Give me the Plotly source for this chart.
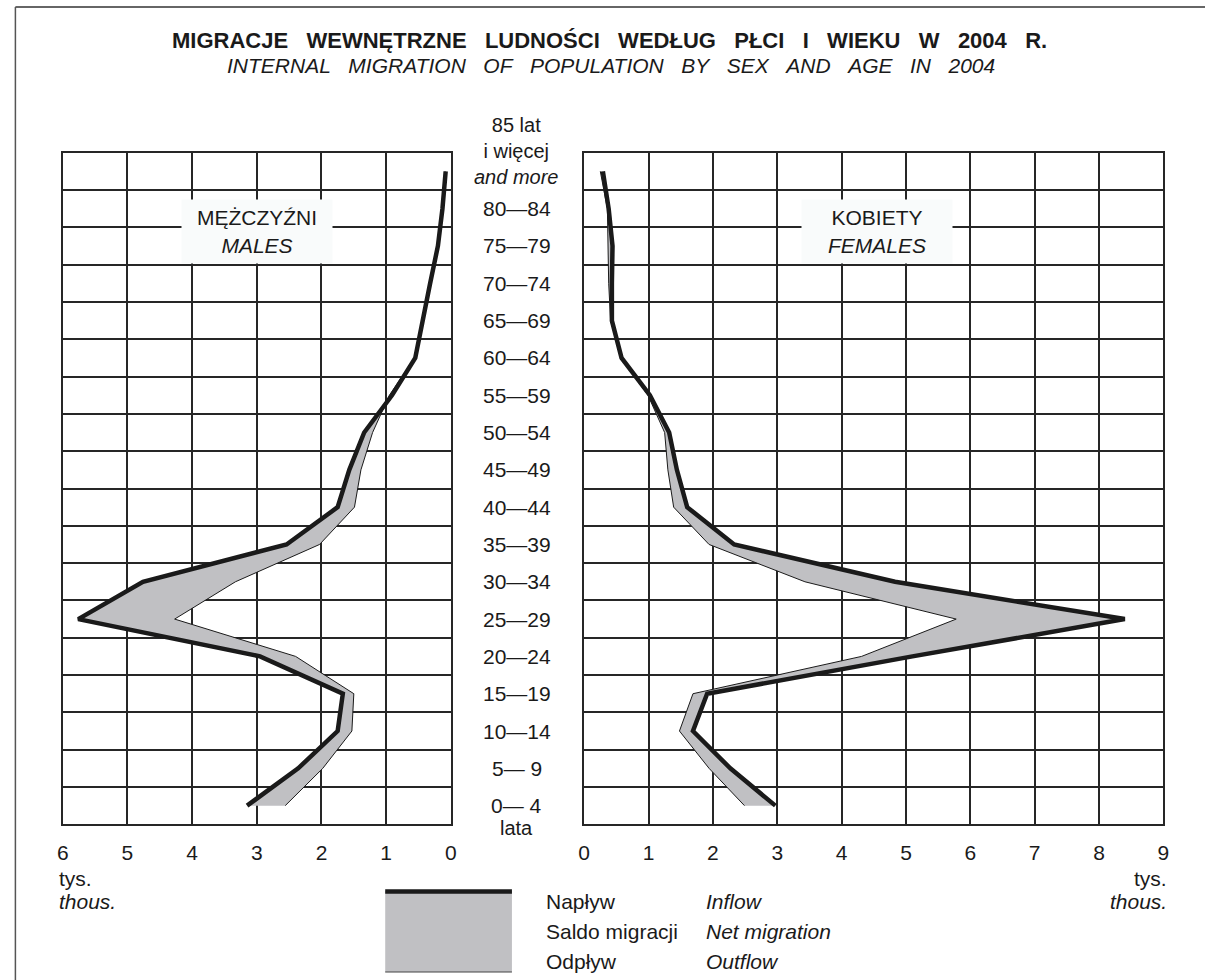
import plotly.graph_objects as go

# ---------------- data (thousands) ----------------
age_groups = ["0— 4", "5— 9", "10—14", "15—19", "20—24", "25—29", "30—34", "35—39",
              "40—44", "45—49", "50—54", "55—59", "60—64", "65—69", "70—74", "75—79",
              "80—84", "85 lat<br>i więcej<br><i>and more</i>"]

male_inflow = [3.15, 2.36, 1.75, 1.67, 2.95, 5.76, 4.76, 2.54, 1.75, 1.57,
               1.34, 0.91, 0.55, 0.44, 0.32, 0.20, 0.13, 0.08]
male_outflow = [2.56, 1.98, 1.53, 1.50, 2.40, 4.27, 3.33, 2.03, 1.49, 1.39,
                1.21, 0.95, 0.56, 0.45, 0.33, 0.21, 0.14, 0.09]

female_inflow = [2.97, 2.27, 1.69, 1.91, 5.10, 8.40, 4.83, 2.33, 1.60, 1.44,
                 1.32, 1.02, 0.58, 0.43, 0.43, 0.44, 0.38, 0.29]
female_outflow = [2.49, 1.94, 1.48, 1.69, 4.31, 5.78, 3.43, 1.94, 1.39, 1.30,
                  1.25, 0.99, 0.57, 0.41, 0.38, 0.37, 0.36, 0.25]

left_ticks = [6, 5, 4, 3, 2, 1, 0]
right_ticks = [0, 1, 2, 3, 4, 5, 6, 7, 8, 9]

# ---------------- layout helpers ----------------
W, H = 1211, 980
FONT = "Liberation Sans, Arial, sans-serif"
INK = "#1a1a1a"
GRID = "#262626"
FILL = "#c0c0c3"
FS = 21


def px(x):
    return x / W


def py(y):
    return 1 - y / H


ypos = list(range(len(age_groups)))

fig = go.Figure()

# males
fig.add_trace(go.Scatter(x=male_outflow, y=ypos, mode="lines", xaxis="x", yaxis="y",
                         line=dict(color=INK, width=1), showlegend=False, hoverinfo="skip"))
fig.add_trace(go.Scatter(x=male_inflow, y=ypos, mode="lines", xaxis="x", yaxis="y",
                         fill="tonextx", fillcolor=FILL,
                         line=dict(color=INK, width=4.5), showlegend=False, hoverinfo="skip"))
# females
fig.add_trace(go.Scatter(x=female_outflow, y=ypos, mode="lines", xaxis="x2", yaxis="y2",
                         line=dict(color=INK, width=1), showlegend=False, hoverinfo="skip"))
fig.add_trace(go.Scatter(x=female_inflow, y=ypos, mode="lines", xaxis="x2", yaxis="y2",
                         fill="tonextx", fillcolor=FILL,
                         line=dict(color=INK, width=4.5), showlegend=False, hoverinfo="skip"))

ydom = [py(824.3), py(152.7)]
n = len(age_groups)
ygrid = [i - 0.5 for i in range(n + 1)]

common_x = dict(showgrid=True, gridcolor=GRID, gridwidth=1.6, showline=True, linecolor=GRID,
                linewidth=1.6, mirror=True, zeroline=False, ticks="", ticklabelstandoff=9,
                tickfont=dict(family=FONT, size=FS, color=INK), fixedrange=True)
common_y = dict(range=[-0.5, n - 0.5], tickvals=ygrid, showticklabels=False, showgrid=True,
                gridcolor=GRID, gridwidth=1.6, showline=True, linecolor=GRID, linewidth=1.6,
                mirror=True, zeroline=False, ticks="", fixedrange=True)

fig.update_layout(
    width=W, height=H, autosize=False,
    margin=dict(l=0, r=0, t=0, b=0),
    paper_bgcolor="white", plot_bgcolor="white",
    xaxis=dict(domain=[px(57.3), px(449.3)], range=[6, 0], tickvals=left_ticks, **common_x),
    yaxis=dict(domain=ydom, anchor="x", **common_y),
    xaxis2=dict(domain=[px(584), px(1169)], range=[0, 9], tickvals=right_ticks, anchor="y2", **common_x),
    yaxis2=dict(domain=ydom, anchor="x2", **common_y),
)

SP = "\u00a0\u00a0\u00a0"
ann = []
# titles
title_pl = SP.join("MIGRACJE WEWNĘTRZNE LUDNOŚCI WEDŁUG PŁCI I WIEKU W 2004 R.".split(" "))
title_en = SP.join("INTERNAL MIGRATION OF POPULATION BY SEX AND AGE IN 2004".split(" "))
ann.append(dict(text="<b>%s</b>" % title_pl,
                x=px(610), y=py(41), xref="paper", yref="paper", showarrow=False,
                font=dict(family=FONT, size=22, color=INK), xanchor="center", yanchor="middle"))
ann.append(dict(text="<i>%s</i>" % title_en,
                x=px(611), y=py(65), xref="paper", yref="paper", showarrow=False,
                font=dict(family=FONT, size=21, color=INK), xanchor="center", yanchor="middle"))

# age group labels in the central column
for i, lab in enumerate(age_groups):
    a = dict(text=lab, x=px(516), y=i, xref="paper", yref="y", showarrow=False,
             font=dict(family=FONT, size=FS, color=INK), xanchor="center", yanchor="middle")
    if i == n - 1:
        a["yshift"] = 20
        a["font"] = dict(family=FONT, size=20, color=INK)
    ann.append(a)
ann.append(dict(text="lata", x=px(516), y=0, xref="paper", yref="y", yshift=-22, showarrow=False,
                font=dict(family=FONT, size=20, color=INK), xanchor="center", yanchor="middle"))

# panel labels
ann.append(dict(text="MĘŻCZYŹNI<br><i>MALES</i>", x=3, y=15.39, xref="x", yref="y", showarrow=False,
                font=dict(family=FONT, size=FS, color=INK), bgcolor="#f9fbfb", width=148, height=61,
                xanchor="center", yanchor="middle"))
ann.append(dict(text="KOBIETY<br><i>FEMALES</i>", x=4.55, y=15.39, xref="x2", yref="y2", showarrow=False,
                font=dict(family=FONT, size=FS, color=INK), bgcolor="#f9fbfb", width=148, height=61,
                xanchor="center", yanchor="middle"))

# units
for xx, anc in ((52, "left"), (1175, "right")):
    ann.append(dict(text="tys.", x=px(xx), y=py(878), xref="paper", yref="paper",
                    showarrow=False, xanchor=anc, yanchor="middle",
                    font=dict(family=FONT, size=FS, color=INK)))
    ann.append(dict(text="<i>thous.</i>", x=px(xx), y=py(901), xref="paper", yref="paper",
                    showarrow=False, xanchor=anc, yanchor="middle",
                    font=dict(family=FONT, size=FS, color=INK)))

# legend texts
leg_rows = [("Napływ", "Inflow", 901), ("Saldo migracji", "Net migration", 931), ("Odpływ", "Outflow", 961)]
for pl, en, yy in leg_rows:
    ann.append(dict(text=pl, x=px(543), y=py(yy), xref="paper", yref="paper", showarrow=False,
                    xanchor="left", yanchor="middle", font=dict(family=FONT, size=FS, color=INK)))
    ann.append(dict(text="<i>%s</i>" % en, x=px(705), y=py(yy), xref="paper", yref="paper",
                    showarrow=False, xanchor="left", yanchor="middle",
                    font=dict(family=FONT, size=FS, color=INK)))

fig.update_layout(annotations=ann)

shapes = [
    # outer frame (top and left edges)
    dict(type="line", xref="paper", yref="paper", x0=px(9.5), x1=1, y0=py(7), y1=py(7),
         line=dict(color="#333", width=1.5)),
    dict(type="line", xref="paper", yref="paper", x0=px(9.5), x1=px(9.5), y0=py(7), y1=0,
         line=dict(color="#555", width=1.5)),
    # legend swatch
    dict(type="rect", xref="paper", yref="paper", x0=px(383), x1=px(511), y0=py(972), y1=py(891),
         fillcolor=FILL, line=dict(width=0)),
    dict(type="line", xref="paper", yref="paper", x0=px(383), x1=px(511), y0=py(891.5), y1=py(891.5),
         line=dict(color=INK, width=4.5)),
    dict(type="line", xref="paper", yref="paper", x0=px(383), x1=px(511), y0=py(972), y1=py(972),
         line=dict(color="#444", width=1)),
]
fig.update_layout(shapes=shapes)

fig.write_html("out.html",
               config={"displayModeBar": False, "responsive": False},
               post_script="document.documentElement.style.margin='0';"
                           "document.body.style.margin='0';"
                           "document.body.style.overflow='hidden';")
